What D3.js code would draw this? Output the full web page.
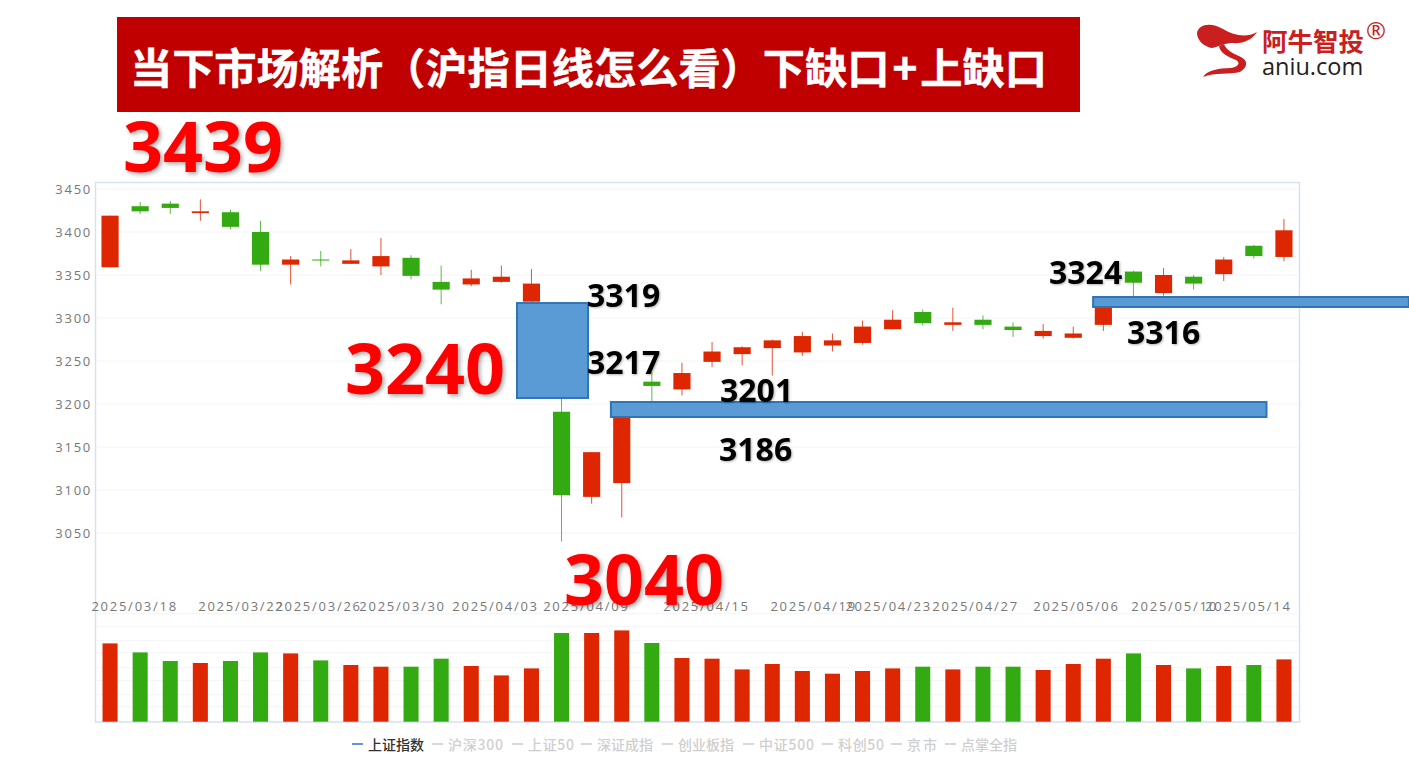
<!DOCTYPE html>
<html>
<head>
<meta charset="utf-8">
<script src="https://cdnjs.cloudflare.com/ajax/libs/d3/7.8.5/d3.min.js"></script>
<style>
body { margin: 0; background: #fff; overflow: hidden; }
text { font-family: "Noto Sans CJK SC", "Open Sans", sans-serif; }
.axis text { font-family: "Open Sans", "Noto Sans", sans-serif; font-size: 13px; fill: #777; letter-spacing: 1.75px; }
.axis path, .axis line { display: none; }
.num { font-family: "Open Sans", sans-serif; font-weight: 700; }
</style>
</head>
<body>
<svg id="chart" width="1409" height="767"></svg>
<script>
// candles, one entry per trading day
var openPrice = [3359,3430,3433,3422,3423,3400,3362,3368,3363,3360,3370,3342,3339,3342,3319,3191,3092,3108,3226,3217,
	3249,3258,3265,3260,3268,3271,3287,3307,3292,3298,3290,3279,3277,3292,3354,3329,3348,3351,3384,3371];
var closePrice = [3419,3424,3428,3424,3406,3362,3368,3367,3367,3372,3349,3333,3346,3348,3340,3094,3144,3186,3221,3236,
	3261,3266,3274,3279,3274,3290,3298,3294,3295,3292,3286,3285,3282,3314,3341,3350,3340,3368,3372,3402];
var highPrice = [3419,3435,3436,3438,3426,3413,3372,3378,3380,3393,3373,3361,3356,3361,3357,3217,3144,3186,3237,3248,
	3272,3267,3275,3284,3282,3297,3309,3310,3312,3303,3295,3293,3290,3316,3355,3358,3350,3371,3385,3415];
var lowPrice = [3359,3421,3421,3413,3403,3355,3339,3360,3363,3350,3345,3316,3337,3341,3319,3040,3084,3068,3201,3210,
	3243,3245,3233,3256,3261,3269,3287,3291,3285,3287,3278,3276,3276,3285,3324,3326,3333,3343,3369,3366];
var volume = [78.3,69.3,60.7,58.7,60.7,69.3,68.3,61.3,56.7,55,55,63,55.7,46.3,53.3,88.7,88.7,91.3,78.7,63.7,
	63,52.3,57.7,50.7,48,50.7,53.3,55,52.3,55,55,51.7,57.7,63,68.3,56.7,53.3,55.7,56.7,62.3];

var priceTicks = [3050,3100,3150,3200,3250,3300,3350,3400,3450];
var volumeGrid = [15,27,41,54,69,81,95,108];
var dateLabels = ['2025/03/18','2025/03/22','2025/03/26','2025/03/30','2025/04/03','2025/04/09','2025/04/15',
	'2025/04/19','2025/04/23','2025/04/27','2025/05/06','2025/05/10','2025/05/14'];
var dateSlots = [0.8,4.35,6.91,9.7,12.79,15.81,19.8,23.36,25.85,28.74,32.09,35.35,37.8];

// hand drawn gap boxes: from slot, to slot, top price, bottom price
var gapFrom = [13.52,16.64,32.66];
var gapTo = [15.88,38.42,43.15];
var gapTop = [3317.4,3202.3,3324.4];
var gapBottom = [3207,3184.9,3312.8];

var legendNames = ['上证指数','沪深300','上证50','深证成指','创业板指','中证500','科创50','京市','点掌全指'];

var svg = d3.select('#chart');
var days = d3.range(openPrice.length);

var x = d3.scaleBand().domain(days).range([95,1299]).paddingInner(0.43).paddingOuter(0.215);
var xVol = d3.scaleBand().domain(days).range([95,1299]).paddingInner(0.5).paddingOuter(0.25);
var slot = d3.scaleLinear().domain([0,39]).range([x(0)+x.bandwidth()/2, x(39)+x.bandwidth()/2]);
var y = d3.scaleLinear().domain([3050,3450]).range([533,189]);
var yVol = d3.scaleLinear().domain([0,100]).range([721.7,621.7]);

var RED = '#de2600', GREEN = '#33aa11';
function dayColor(i) { return closePrice[i] >= openPrice[i] ? RED : GREEN; }

// frame and grid
svg.append('rect').attr('x',95.5).attr('y',182.5).attr('width',1204).attr('height',539.5)
	.attr('fill','none').attr('stroke','#d5e1f1').attr('stroke-width',1.5);
svg.append('g').selectAll('line').data(priceTicks).join('line')
	.attr('x1',96).attr('x2',1299).attr('y1',d => y(d)).attr('y2',d => y(d))
	.attr('stroke','#f3f4f7');
svg.append('g').selectAll('line').data(volumeGrid).join('line')
	.attr('x1',96).attr('x2',1299).attr('y1',d => yVol(d)).attr('y2',d => yVol(d))
	.attr('stroke','#f3f4f7');

// axes
svg.append('g').attr('class','axis').attr('transform','translate(92,0)')
	.call(d3.axisLeft(y).tickValues(priceTicks).tickSize(0).tickPadding(0).tickFormat(d3.format('d')));
svg.append('g').attr('class','axis').attr('transform','translate(0,602)')
	.call(d3.axisBottom(slot).tickValues(dateSlots).tickSize(0).tickPadding(0)
		.tickFormat((d,i) => dateLabels[i]));

// candles
var candle = svg.append('g').selectAll('g').data(days).join('g');
candle.append('line')
	.attr('x1',d => slot(d)).attr('x2',d => slot(d))
	.attr('y1',d => y(highPrice[d])).attr('y2',d => y(lowPrice[d]))
	.attr('stroke',dayColor).attr('stroke-width',1).attr('opacity',0.8);
candle.append('rect')
	.attr('x',d => x(d)).attr('width',x.bandwidth())
	.attr('y',d => y(Math.max(openPrice[d],closePrice[d])))
	.attr('height',d => Math.max(1,Math.abs(y(openPrice[d])-y(closePrice[d]))))
	.attr('fill',dayColor);

// volume
svg.append('g').selectAll('rect').data(days).join('rect')
	.attr('x',d => xVol(d)).attr('width',xVol.bandwidth())
	.attr('y',d => yVol(volume[d])).attr('height',d => yVol(0)-yVol(volume[d]))
	.attr('fill',dayColor);

// legend
var legendX = [368,448,528,597,678,759,838,907,961];
var legendW = [56,55,46,56,56,55,46,30,56];
var legend = svg.append('g').selectAll('g').data(legendNames).join('g');
legend.append('line')
	.attr('x1',(d,i) => legendX[i]-16).attr('x2',(d,i) => legendX[i]-5)
	.attr('y1',744).attr('y2',744).attr('stroke-width',2)
	.attr('stroke',(d,i) => i ? '#d8d8d8' : '#6a8fe0');
legend.append('text').text(d => d)
	.attr('x',(d,i) => legendX[i]).attr('y',750)
	.attr('textLength',(d,i) => legendW[i]).attr('lengthAdjust','spacing')
	.attr('font-size',14).attr('font-weight',500)
	.attr('fill',(d,i) => i ? '#cfcfcf' : '#333');

// gap boxes
svg.append('g').selectAll('rect').data(gapFrom).join('rect')
	.attr('x',(d,i) => slot(gapFrom[i])).attr('width',(d,i) => slot(gapTo[i])-slot(gapFrom[i]))
	.attr('y',(d,i) => y(gapTop[i])).attr('height',(d,i) => y(gapBottom[i])-y(gapTop[i]))
	.attr('fill','#5b9bd5').attr('stroke','#2e75b6').attr('stroke-width',2);

// title banner
svg.append('rect').attr('x',117).attr('y',17).attr('width',963).attr('height',95).attr('fill','#c00000');
var title = svg.append('text').attr('x',130).attr('y',84).attr('font-size',42.2).attr('font-weight',700).attr('fill','#fff')
	.style('stroke','#fff').style('stroke-width',0.5);
title.append('tspan').text('当下市场解析（沪指日线怎么看）下缺口');
title.append('tspan').attr('dx',3).text('+');
title.append('tspan').attr('dx',3).text('上缺口');

// price call-outs
function bigLabel(t, px, py) {
	svg.append('text').attr('class','num').attr('x',px).attr('y',py).attr('font-size',70)
		.attr('fill','#ff0000').style('filter','drop-shadow(2px 2px 2px rgba(0,0,0,.35))').text(t);
}
function smallLabel(t, px, py) {
	svg.append('text').attr('class','num').attr('x',px).attr('y',py).attr('font-size',32)
		.attr('fill','#000').style('filter','drop-shadow(1px 1px 1px rgba(0,0,0,.3))').text(t);
}
bigLabel('3439',123,172);
bigLabel('3240',345,394);
bigLabel('3040',564,605);
smallLabel('3319',587,307);
smallLabel('3217',587,374);
smallLabel('3201',720,402);
smallLabel('3186',719,461);
smallLabel('3324',1049,284);
smallLabel('3316',1127,344);

// logo
var logo = svg.append('g');
logo.append('path').attr('fill','#c9201f')
	.attr('d','M1197 33C1198 25 1210 21 1223 29C1234 36 1247 38 1257 32C1252 40 1243 44 1232 43C1224 43 1218 47 1212 48C1205 47 1197 41 1197 33Z');
logo.append('path').attr('fill','#c9201f')
	.attr('d','M1219 46L1224 44C1226 50 1234 54 1241 57C1249 61 1247 68 1240 72C1230 75 1215 72 1203 77C1206 71 1218 68 1231 68C1238 67 1241 63 1236 60C1228 57 1220 53 1219 46Z');
logo.append('text').attr('x',1262).attr('y',51).attr('font-size',25.5).attr('font-weight',700).attr('fill','#c9201f').text('阿牛智投');
logo.append('text').attr('x',1262).attr('y',75).attr('font-size',23.5).attr('fill','#222').style('font-family','"Open Sans", sans-serif').text('aniu.com');
logo.append('text').attr('x',1366).attr('y',39).attr('font-size',24).attr('fill','#c9201f').style('font-family','"Open Sans", sans-serif').text('®');
</script>
</body>
</html>
